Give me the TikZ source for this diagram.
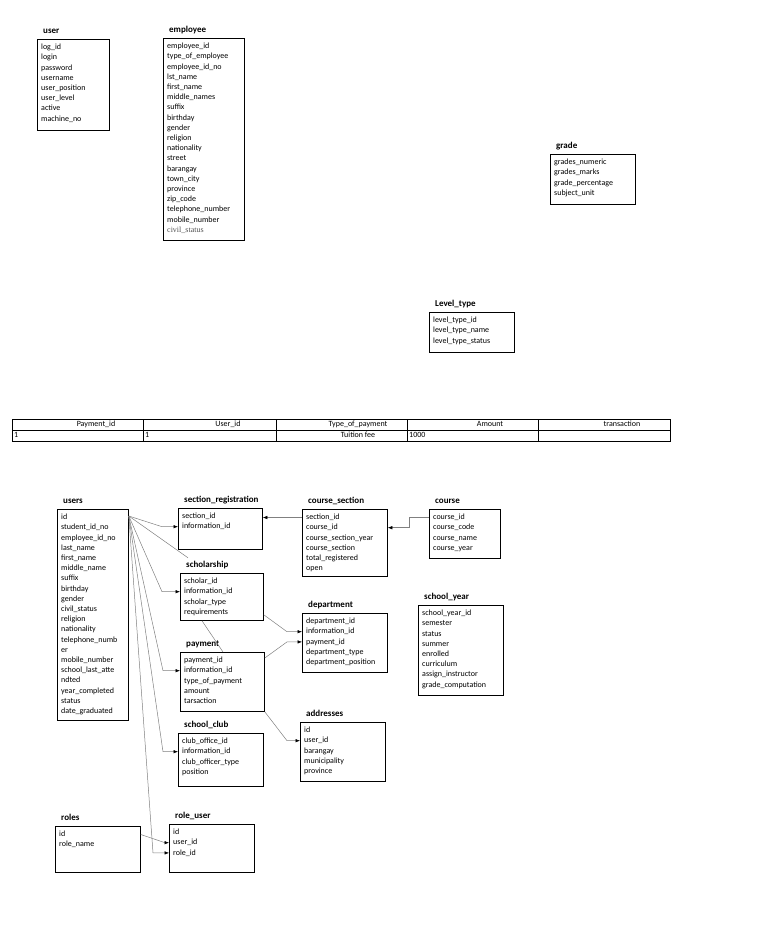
\documentclass[tikz,border=0pt]{standalone}
\usepackage{fontspec}
\setmainfont{Carlito}
\newfontfamily\timesfont{Liberation Serif}
\usepackage{tikz}
\usetikzlibrary{arrows.meta,positioning}
\definecolor{LinkGray}{HTML}{808080}
\definecolor{OddText}{HTML}{505050}
\newcommand{\fsz}{\fontsize{8}{9.6}\selectfont}
% one table of the schema: name, x, y, width, height, title, fields
\newcommand{\entity}[7]{%
  \node[ent, minimum width=#4pt, minimum height=#5pt] (#1) at (#2,#3) {};
  \node[ttl] (#1-t) at ([shift={(6pt,6pt)}]#1.north west) {#6};
  \foreach \f [count=\i] in {#7}
    \node[fld] (#1-\i) at ([shift={(4pt,{-8.5pt-(\i-1)*10.2pt})}]#1.north west) {\f};
}

\begin{document}
\begin{tikzpicture}[x=1pt, y=-1pt,
  ent/.style={draw, line width=0.8pt, anchor=north west, inner sep=0pt},
  ttl/.style={anchor=base west, inner sep=0pt, font=\fontsize{9}{11}\selectfont\bfseries},
  fld/.style={anchor=west, inner sep=0pt, font=\fsz, text height=6pt, text depth=1.8pt},
  cell/.style={inner sep=0pt, font=\fsz, text height=6pt, text depth=1.8pt},
  ln/.style={draw=LinkGray, line width=0.5pt},
  lnk/.style={ln, {Latex[length=4.5pt,width=3.5pt,color=black]}-}]
  \useasboundingbox (0,0) rectangle (768,932);

  % upper tables
  \entity{user}{37}{39}{72}{91}{user}
    {log\_id, login, password, username, user\_position, user\_level, active, machine\_no}
  \entity{emp}{163}{38}{81}{202}{employee}
    {employee\_id, type\_of\_employee, employee\_id\_no, lst\_name, first\_name,
     middle\_names, suffix, birthday, gender, religion, nationality, street,
     barangay, town\_city, province, zip\_code, telephone\_number, mobile\_number,
     {\timesfont\color{OddText}civil\_status}}
  \entity{grade}{550}{154}{85}{50}{grade}
    {grades\_numeric, grades\_marks, grade\_percentage, subject\_unit}
  \entity{lvl}{429}{312}{85}{40}{Level\_type}
    {level\_type\_id, level\_type\_name, level\_type\_status}

  % payment table
  \draw[line width=0.6pt] (12,419) rectangle (670,441) (12,430) -- (670,430);
  \foreach \x in {143,276,407,538} \draw[line width=0.6pt] (\x,419) -- (\x,441);
  \foreach \t/\x [count=\i] in {Payment\_id/96, User\_id/228, Type\_of\_payment/358,
      Amount/490, transaction/622}
    \node[cell] (hd\i) at (\x,424.5) {\t};
  \node[cell, anchor=west] (c1) at (14,435.5) {1};
  \node[cell, anchor=west] (c2) at (145,435.5) {1};
  \node[cell] (c3) at (358,435.5) {Tuition fee};
  \node[cell, anchor=west] (c4) at (409,435.5) {1000};

  % lower tables
  \entity{users}{57}{509}{71}{211}{users}
    {id, student\_id\_no, employee\_id\_no, last\_name, first\_name, middle\_name,
     suffix, birthday, gender, civil\_status, religion, nationality,
     telephone\_numb, er, mobile\_number, school\_last\_atte, ndted,
     year\_completed, status, date\_graduated}
  \entity{secreg}{178}{508}{84}{41}{section\_registration}
    {section\_id, information\_id}
  \entity{schol}{180}{573}{83}{47}{scholarship}
    {scholar\_id, information\_id, scholar\_type, requirements}
  \entity{pay}{180}{652}{84}{59}{payment}
    {payment\_id, information\_id, type\_of\_payment, amount, tarsaction}
  \entity{club}{178}{733}{85}{53}{school\_club}
    {club\_office\_id, information\_id, club\_officer\_type, position}
  \entity{roles}{55}{826}{85}{46}{roles}
    {id, role\_name}
  \entity{ru}{169}{824}{85}{48}{role\_user}
    {id, user\_id, role\_id}
  \entity{cs}{302}{509}{85}{67}{course\_section}
    {section\_id, course\_id, course\_section\_year, course\_section,
     total\_registered, open}
  \entity{course}{429}{509}{71}{49}{course}
    {course\_id, course\_code, course\_name, course\_year}
  \entity{dept}{302}{613}{85}{59}{department}
    {department\_id, information\_id, payment\_id, department\_type,
     department\_position}
  \entity{sy}{418}{605}{85}{90}{school\_year}
    {school\_year\_id, semester, status, summer, enrolled, curriculum,
     assign\_instructor, grade\_computation}
  \entity{addr}{300}{722}{85}{59}{addresses}
    {id, user\_id, barangay, municipality, province}

  % links
  \coordinate (uid) at ([yshift=-7pt]users.north east);
  \draw[lnk] (secreg.west |- secreg-2) -- ++(-16,0) -- (uid);
  \draw[ln] (uid) -- ([shift={(10pt,-8pt)}]secreg.south west);
  \draw[lnk] (schol.west |- schol-2) -- ++(-18,0) -- (uid);
  \draw[lnk] (pay.west |- pay-2) -- ++(-17,0) -- (uid);
  \draw[lnk] (club.west |- club-2) -- ++(-15,0) -- (uid);
  \draw[lnk] (ru.west |- ru-3) -- ++(-16,0) -- (uid);
  \draw[lnk] (ru.west |- ru-2) -- ++(-4,0) -- (roles.east |- roles-1);
  \draw[lnk] (dept.west |- dept-2) -- ++(-15,0) -- ([yshift=6pt]schol.south east);
  \draw[lnk] (dept.west |- dept-3) -- ++(-15,0) -- ([yshift=-6pt]pay.north east);
  \draw[lnk] (addr.west |- addr-2) -- ++(-13,0) -- (pay.south east);
  \draw[ln] ([xshift=22pt]schol.south west) -- ([xshift=43pt]pay.north west);
  \draw[lnk] (secreg.east |- cs-1) -- (cs.west |- cs-1);
  \draw[lnk] (cs.east |- cs-2) -- ++(21,0) |- (course.west |- course-1);
\end{tikzpicture}
\end{document}
